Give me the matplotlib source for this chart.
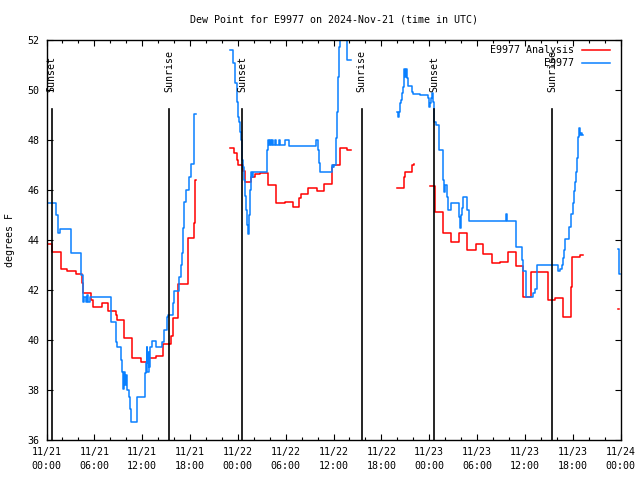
import numpy as np
import matplotlib
matplotlib.use("Agg")
import matplotlib.pyplot as plt
from matplotlib.ticker import FixedLocator, MultipleLocator
from matplotlib.lines import Line2D

title = "Dew Point for E9977 on 2024-Nov-21 (time in UTC)"
ylabel = "degrees F"
series_names = ["E9977 Analysis", "E9977"]
series_colors = ["#ff0000", "#0a80ff"]

x_tick_hours = [0, 6, 12, 18, 24, 30, 36, 42, 48, 54, 60, 66, 72]
x_tick_labels = ["11/21\n00:00", "11/21\n06:00", "11/21\n12:00", "11/21\n18:00",
                 "11/22\n00:00", "11/22\n06:00", "11/22\n12:00", "11/22\n18:00",
                 "11/23\n00:00", "11/23\n06:00", "11/23\n12:00", "11/23\n18:00",
                 "11/24\n00:00"]
y_ticks = [36, 38, 40, 42, 44, 46, 48, 50, 52]

event_names = ["Sunset", "Sunrise", "Sunset", "Sunrise", "Sunset", "Sunrise"]
event_hours = [0.65, 15.41, 24.57, 39.55, 48.62, 63.46]

nan = np.nan
# hours since 11/21 00:00 UTC (step-post), NaN = gap
analysis_hours = [
    0.00, 0.65, 1.78, 2.61, 3.70, 4.45, 4.60, 5.52, 5.87, 6.93, 7.76, 8.72, 8.88, 9.72,
    10.77, 11.82, 12.78, 13.73, 14.58, 14.66, 15.58, 15.83, 16.55, 17.70, 18.45, 18.68, 18.76,
    18.76,
    23.02, 23.53, 23.86, 24.07, 24.62, 24.85, 25.62, 26.16, 26.79, 27.83, 28.76, 29.92,
    30.89, 31.72, 31.89, 32.85, 33.98, 34.82, 35.82, 35.99, 36.83, 37.67, 38.17,
    38.17,
    43.98, 44.82, 44.95, 45.82, 46.15,
    46.15,
    48.12, 48.71, 49.79, 50.72, 51.79, 52.80, 53.83, 54.81, 55.86, 56.86, 57.84, 58.87,
    59.79, 60.83, 62.86, 63.74, 64.84, 65.77, 65.90, 66.88, 67.28,
    67.28,
    71.70, 71.85,
]
analysis_vals = [
    43.84, 43.52, 42.83, 42.76, 42.63, 42.30, 41.90, 41.60, 41.33, 41.47, 41.16, 41.00, 40.80, 40.07,
    39.27, 39.11, 39.27, 39.37, 39.60, 39.83, 40.16, 40.89, 42.23, 44.07, 44.67, 46.40, 46.40,
    nan,
    47.67, 47.47, 47.20, 47.00, 46.75, 46.33, 46.53, 46.64, 46.69, 46.20, 45.47, 45.51,
    45.31, 45.67, 45.84, 46.07, 45.96, 46.23, 46.93, 47.00, 47.67, 47.60, 47.60,
    nan,
    46.07, 46.50, 46.73, 47.00, 47.04,
    nan,
    46.15, 45.13, 44.28, 43.93, 44.27, 43.60, 43.84, 43.44, 43.06, 43.12, 43.51, 42.96,
    41.72, 42.70, 41.60, 41.67, 40.92, 42.11, 43.31, 43.39, 43.39,
    nan,
    41.23, 41.23,
]

obs_hours = [
    0.00, 1.23, 1.45, 1.70, 3.04, 4.37, 4.55, 4.75, 4.90, 5.05, 5.20, 5.40, 8.06, 8.72, 8.88,
    9.31, 9.44, 9.64, 9.72, 9.85, 9.97, 10.10, 10.35, 10.48, 10.54, 11.34, 12.32, 12.50,
    12.55, 12.65, 12.80, 12.90, 13.00, 13.20, 13.74, 14.45, 14.74, 15.08, 15.28, 15.83,
    15.96, 16.62, 16.84, 17.04, 17.16, 17.29, 17.47, 17.92, 18.09, 18.54, 18.76,
    18.76,
    23.02, 23.44, 23.65, 23.86, 23.99, 24.15, 24.28, 24.37, 24.49, 24.62, 24.78, 24.91,
    25.03, 25.19, 25.32, 25.45, 25.53, 25.62, 25.75, 25.95, 27.60, 27.73, 27.90, 28.00,
    28.12, 28.25, 28.40, 28.65, 28.78, 29.20, 29.35, 29.90, 30.40, 33.82, 34.10, 34.20,
    34.30, 35.78, 35.90, 36.00, 36.30, 36.42, 36.55, 36.71, 36.83, 37.65, 38.15,
    38.15,
    44.02, 44.14, 44.27, 44.35, 44.48, 44.57, 44.77, 44.86, 44.98, 45.07, 45.20, 45.32,
    45.90, 46.02, 46.86, 47.83, 47.96, 48.12, 48.21, 48.33, 48.46, 48.58, 48.66, 48.83,
    49.21, 49.28, 49.71, 49.87, 49.96, 50.21, 50.34, 50.72, 51.69, 51.86, 52.00, 52.12,
    52.24, 52.80, 53.05, 57.59, 57.72, 58.87, 59.62, 59.75, 60.16, 61.08, 61.29, 61.50,
    64.10, 64.22, 64.37, 64.64, 64.84, 64.93, 65.06, 65.56, 65.77, 66.02, 66.19, 66.31,
    66.44, 66.60, 66.72, 66.85, 66.97, 67.06, 67.15, 67.35,
    67.35,
    71.74, 71.80, 71.87, 71.92,
]
obs_vals = [
    45.47, 45.00, 44.28, 44.45, 43.47, 42.60, 41.50, 41.70, 41.50, 41.80, 41.50, 41.73, 40.73, 39.93, 39.73,
    39.20, 38.70, 38.05, 38.70, 38.20, 38.60, 38.00, 37.73, 37.23, 36.73, 37.71, 38.68, 39.08,
    39.73, 38.70, 39.50, 38.90, 39.73, 39.96, 39.73, 39.93, 40.40, 40.93, 41.00, 41.47,
    41.96, 42.53, 43.00, 43.47, 44.47, 45.50, 46.00, 46.50, 47.03, 49.04, 49.04,
    nan,
    51.60, 51.07, 50.27, 49.53, 48.93, 48.73, 48.33, 48.00, 47.20, 46.93, 46.40, 45.75,
    45.20, 44.60, 44.25, 45.00, 46.00, 46.73, 46.53, 46.73, 47.60, 48.00, 47.78, 48.00,
    47.78, 48.00, 47.78, 48.00, 47.78, 48.00, 47.78, 48.00, 47.76, 48.00, 47.60, 47.07,
    46.73, 47.00, 46.90, 47.00, 48.07, 49.13, 50.53, 51.73, 52.50, 51.20, 51.20,
    nan,
    49.13, 48.93, 49.13, 49.47, 49.60, 49.87, 50.13, 50.83, 50.53, 50.83, 50.47, 50.16,
    49.93, 49.84, 49.81, 49.67, 49.33, 49.47, 49.67, 49.87, 49.50, 49.13, 48.73, 48.60,
    48.13, 47.60, 46.40, 45.93, 46.20, 45.71, 45.20, 45.47, 44.90, 44.47, 45.00, 45.27,
    45.73, 45.20, 44.75, 45.03, 44.75, 43.72, 43.20, 42.75, 41.73, 41.90, 42.05, 43.00,
    42.85, 42.75, 42.85, 43.00, 43.30, 43.60, 44.03, 44.50, 45.03, 45.47, 45.95, 46.33,
    46.73, 47.30, 48.13, 48.47, 48.20, 48.30, 48.20, 48.20,
    nan,
    43.63, 43.13, 42.64, 42.64,
]

mono = "DejaVu Sans Mono"
fs = 7.2

fig = plt.figure(figsize=(6.4, 4.8), dpi=100)
ax = fig.add_axes([46.5 / 640, 40 / 480, 574 / 640, 400 / 480])

ax.plot(analysis_hours, analysis_vals, drawstyle="steps-post", color=series_colors[0], lw=1.1)
ax.plot(obs_hours, obs_vals, drawstyle="steps-post", color=series_colors[1], lw=1.1)

ax.set_xlim(0, 72)
ax.set_ylim(36, 52)

# sunrise / sunset markers
for name, h in zip(event_names, event_hours):
    ax.plot([h, h], [36, 49.24], color="black", lw=1.2)
    ax.text(h, 49.92, name, rotation=90, ha="center", va="bottom",
            fontsize=fs, family=mono)

ax.xaxis.set_major_locator(FixedLocator(x_tick_hours))
ax.xaxis.set_minor_locator(MultipleLocator(2))
ax.set_xticklabels(x_tick_labels, family=mono, fontsize=fs, linespacing=1.5)
ax.set_yticks(y_ticks)
ax.set_yticklabels([str(v) for v in y_ticks], family=mono, fontsize=fs)
ax.tick_params(which="both", direction="in", top=True, right=True, color="black", width=0.8)
ax.tick_params(which="major", length=4.5)
ax.tick_params(which="minor", length=2.5)
ax.tick_params(axis="x", pad=5)
ax.tick_params(axis="y", pad=5)
for s in ax.spines.values():
    s.set_linewidth(1.0)
    s.set_color("black")

# legend (right-aligned text, sample line)
for i, (name, col) in enumerate(zip(series_names, series_colors)):
    yf = 0.976 - i * 0.033
    ax.text(0.919, yf, name, transform=ax.transAxes, ha="right", va="center",
            family=mono, fontsize=fs)
    ax.add_line(Line2D([0.9324, 0.9817], [yf, yf], transform=ax.transAxes,
                       color=col, lw=1.1))

fig.text(333.5 / 640, 1 - 19 / 480, title, ha="center", va="center", family=mono, fontsize=fs)
fig.text(10 / 640, 0.5, ylabel, rotation=90, ha="center", va="center", family=mono, fontsize=fs)

fig.savefig("out.png", dpi=100)
